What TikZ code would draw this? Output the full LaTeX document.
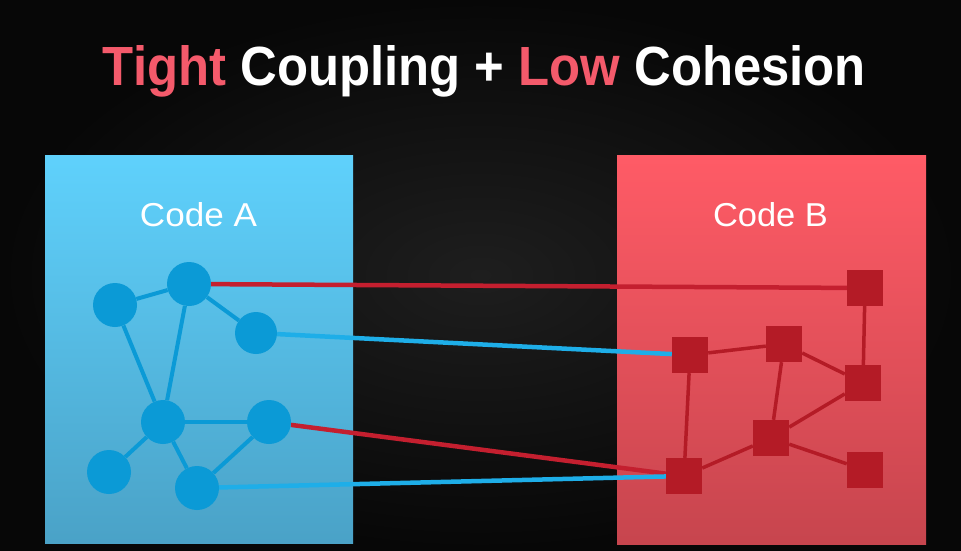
\documentclass[tikz,border=0pt]{standalone}
\usepackage{fontspec}
\setmainfont{Liberation Sans}
\pgfdeclarelayer{back}
\pgfdeclarelayer{mid}
\pgfsetlayers{back,mid,main}
\definecolor{bginner}{HTML}{1E1E1E}
\definecolor{bgouter}{HTML}{070707}
\definecolor{boxAtop}{HTML}{5FD1FC}
\definecolor{boxAbot}{HTML}{4AA2C7}
\definecolor{boxBtop}{HTML}{FF5B66}
\definecolor{boxBbot}{HTML}{C7454E}
\definecolor{circc}{HTML}{0B9AD6}
\definecolor{sqc}{HTML}{B41B26}
\definecolor{redln}{HTML}{C41F2F}
\definecolor{blueln}{HTML}{1EAEE8}
\definecolor{titred}{HTML}{F45A6B}
\tikzset{
  dot/.style={circle, fill=circc, draw=none, minimum size=44pt, inner sep=0pt},
  sqnode/.style={rectangle, fill=sqc, draw=none, minimum size=36pt, inner sep=0pt},
  aedge/.style={draw=circc, line width=4pt},
  bedge/.style={draw=sqc, line width=3.5pt},
  redlink/.style={draw=redln, line width=4.5pt},
  bluelink/.style={draw=blueln, line width=4.5pt},
  label/.style={text=white, inner sep=0pt, anchor=base}
}
\begin{document}
\begin{tikzpicture}[x=1pt, y=-1pt]
\useasboundingbox (0,0) rectangle (961,550);
\begin{pgfonlayer}{back}
  \shade[inner color=bginner, outer color=bgouter] (0,0) rectangle (961,550);
  \shade[top color=boxAtop, middle color=boxAtop, bottom color=boxAbot] (45,155) rectangle (353,543);
  \shade[top color=boxBtop, middle color=boxBtop, bottom color=boxBbot] (617,155) rectangle (926,544);
\end{pgfonlayer}

\node[label] (title) at (484.5,85) {\resizebox{763pt}{40pt}{\bfseries\textcolor{titred}{Tight} Coupling + \textcolor{titred}{Low} Cohesion}};
\node[label] (codeA) at (198.5,226) {\resizebox{117pt}{24pt}{Code A}};
\node[label] (codeB) at (770.5,226) {\resizebox{115pt}{24pt}{Code B}};

% Code A circles
\node[dot] (c1) at (115,305) {};
\node[dot] (c2) at (189,284) {};
\node[dot, minimum size=42pt] (c3) at (256,333) {};
\node[dot] (c4) at (163,422) {};
\node[dot] (c5) at (269,422) {};
\node[dot] (c6) at (109,472) {};
\node[dot] (c7) at (197,488) {};

% Code B squares
\node[sqnode] (s1) at (865,288) {};
\node[sqnode] (s2) at (690,355) {};
\node[sqnode] (s3) at (784,344) {};
\node[sqnode] (s4) at (863,383) {};
\node[sqnode] (s5) at (771,438) {};
\node[sqnode] (s6) at (684,476) {};
\node[sqnode] (s7) at (865,470) {};

\begin{pgfonlayer}{mid}
  \draw[aedge] (c1) -- (c2);
  \draw[aedge] (c2) -- (c3);
  \draw[aedge] (c2) -- (c4);
  \draw[aedge] (c1) -- (c4);
  \draw[aedge] (c4) -- (c5);
  \draw[aedge] (c4) -- (c6);
  \draw[aedge] (c4) -- (c7);
  \draw[aedge] (c7) -- (c5);

  \draw[bedge] (s1) -- (s4);
  \draw[bedge] (s2) -- (s3);
  \draw[bedge] (s3) -- (s4);
  \draw[bedge] (s3) -- (s5);
  \draw[bedge] (s4) -- (s5);
  \draw[bedge] (s5) -- (s6);
  \draw[bedge] (s5) -- (s7);
  \draw[bedge] (s2) -- (s6);

  \draw[redlink] (c2) -- (s1);
  \draw[bluelink] (c3) -- (s2);
  \draw[redlink] (c5) -- (s6);
  \draw[bluelink] (c7) -- (s6);
\end{pgfonlayer}
\end{tikzpicture}
\end{document}
